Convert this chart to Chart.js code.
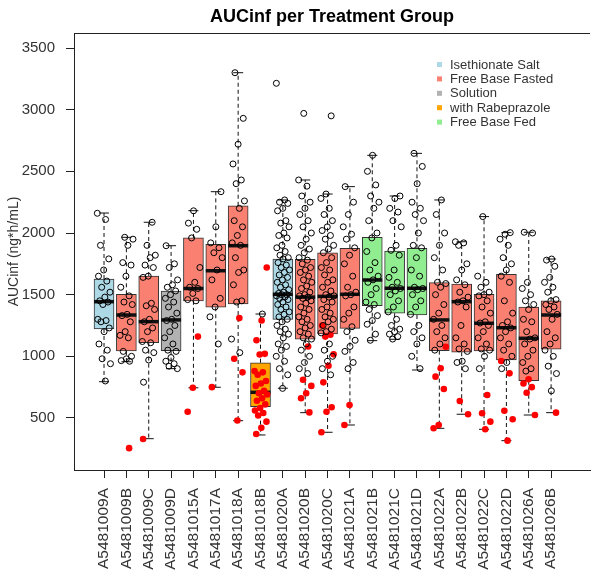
<!DOCTYPE html>
<html>
<head>
<meta charset="utf-8">
<script src="https://cdn.jsdelivr.net/npm/chart.js@4.4.1/dist/chart.umd.min.js"></script>
<style>
  html, body { margin: 0; padding: 0; background: #fff; }
</style>
</head>
<body>
<canvas id="aucChart" width="595" height="575"></canvas>
<script>
const groups = ['A5481009A', 'A5481009B', 'A5481009C', 'A5481009D', 'A5481015A', 'A5481017A',
  'A5481018A', 'A5481018B', 'A5481020A', 'A5481020B', 'A5481020C', 'A5481021A', 'A5481021B',
  'A5481021C', 'A5481021D', 'A5481022A', 'A5481022B', 'A5481022C', 'A5481022D', 'A5481026A', 'A5481026B'];

// 0 Isethionate Salt, 1 Free Base Fasted, 2 Solution, 3 with Rabeprazole, 4 Free Base Fed
const groupType = [0, 1, 1, 2, 1, 1, 1, 3, 0, 1, 1, 1, 4, 4, 4, 1, 1, 1, 1, 1, 1];
const legendLabels = ['Isethionate Salt', 'Free Base Fasted', 'Solution', 'with Rabeprazole', 'Free Base Fed'];
const legendColors = ['#ADD8E6', '#FA8072', '#B2B2B2', '#FFA500', '#90EE90'];

const whiskerLow  = [794, 956, 332, 900, 745, 749, 478, 362, 741, 543, 384, 443, 1127, 1138, 889, 416, 530, 408, 316, 524, 543];
const q1          = [1222, 1043, 1111, 1046, 1450, 1398, 1424, 592, 1300, 1138, 1181, 1227, 1411, 1349, 1335, 1046, 1033, 1043, 970, 802, 1057];
const median      = [1443, 1335, 1281, 1295, 1550, 1694, 1897, 708, 1503, 1480, 1486, 1503, 1619, 1552, 1552, 1295, 1443, 1268, 1232, 1146, 1335];
const q3          = [1627, 1503, 1651, 1530, 1960, 1908, 2221, 948, 1789, 1787, 1840, 1876, 1965, 1854, 1876, 1597, 1586, 1503, 1665, 1400, 1449];
const whiskerHigh = [2162, 1965, 2087, 1897, 2181, 2335, 3300, 1343, 2268, 2430, 2316, 2376, 2630, 2300, 2646, 2268, 1929, 2133, 2003, 2006, 1789];

const blackPoints = [
  [2160, 2110, 1900, 1790, 1700, 1650, 1610, 1560, 1520, 1480, 1450, 1440, 1420, 1300, 1290, 1280, 1230, 1200, 1100, 1050, 980, 940, 800],
  [1965, 1950, 1900, 1760, 1740, 1650, 1560, 1490, 1440, 1420, 1340, 1330, 1280, 1200, 1170, 1150, 1040, 1000, 980, 965, 960],
  [2087, 1900, 1820, 1800, 1740, 1720, 1650, 1640, 1430, 1410, 1380, 1300, 1280, 1230, 1200, 1120, 1110, 1050, 1030, 970, 790],
  [1897, 1750, 1720, 1620, 1580, 1560, 1530, 1500, 1470, 1440, 1400, 1350, 1300, 1290, 1250, 1200, 1150, 1100, 1050, 1040, 990, 960, 940, 920, 900],
  [2180, 2080, 2030, 1960, 1720, 1600, 1560, 1550, 1510, 1460, 1450],
  [2335, 2050, 1920, 1880, 1840, 1800, 1700, 1620, 1470, 1400, 1320, 1100],
  [3300, 2930, 2720, 2560, 2430, 2400, 2260, 2200, 2100, 2050, 1980, 1920, 1900, 1800, 1700, 1680, 1580, 1450, 1440, 1140, 1030],
  [1343],
  [3214, 2268, 2250, 2240, 2200, 2180, 2100, 2080, 2050, 2000, 1980, 1960, 1900, 1880, 1850, 1820, 1800, 1790, 1760, 1740,
   1720, 1700, 1680, 1660, 1640, 1620, 1600, 1580, 1560, 1540, 1520, 1510, 1500, 1500, 1490, 1480, 1470, 1460, 1440, 1420,
   1400, 1380, 1360, 1340, 1320, 1300, 1280, 1250, 1220, 1200, 1180, 1150, 1100, 1080, 1050, 1000, 960, 900, 850, 740],
  [2970, 2430, 2380, 2300, 2250, 2200, 2150, 2100, 2050, 2000, 1950, 1900, 1870, 1840, 1800, 1780, 1750, 1720, 1700, 1680,
   1650, 1620, 1600, 1570, 1550, 1520, 1500, 1490, 1480, 1470, 1450, 1430, 1400, 1380, 1350, 1320, 1300, 1280, 1250, 1230,
   1200, 1180, 1150, 1140, 1100, 1050, 1000, 950, 900, 860],
  [2950, 2316, 2280, 2200, 2150, 2100, 2050, 2020, 1980, 1950, 1900, 1870, 1840, 1800, 1760, 1720, 1700, 1660, 1620, 1600,
   1560, 1530, 1500, 1490, 1480, 1460, 1440, 1400, 1380, 1350, 1320, 1300, 1280, 1250, 1220, 1200, 1190, 1100, 1050, 1000, 960, 900, 850],
  [2376, 2250, 2150, 2050, 1990, 1950, 1880, 1820, 1750, 1650, 1560, 1520, 1500, 1490, 1400, 1350, 1300, 1240, 1200, 1130, 1080, 1040, 950, 900],
  [2630, 2500, 2390, 2300, 2250, 2200, 2100, 2000, 1960, 1850, 1760, 1700, 1650, 1620, 1600, 1550, 1500, 1440, 1420, 1380, 1330, 1290, 1260, 1180, 1130],
  [2300, 2280, 2200, 2170, 2100, 2050, 1900, 1860, 1820, 1700, 1640, 1600, 1560, 1550, 1530, 1500, 1450, 1400, 1360, 1300, 1250, 1220, 1200, 1180, 1160, 1140],
  [2646, 2540, 2400, 2250, 2200, 2150, 2100, 2000, 1900, 1880, 1800, 1700, 1650, 1560, 1550, 1540, 1500, 1450, 1400, 1340, 1250, 1200, 1150, 1100, 1000, 900],
  [2268, 2150, 2000, 1900, 1800, 1700, 1600, 1590, 1560, 1500, 1420, 1350, 1300, 1250, 1200, 1150, 1100, 1050],
  [1929, 1920, 1900, 1750, 1700, 1620, 1580, 1520, 1480, 1450, 1440, 1400, 1250, 1150, 1100, 1060, 1040, 960, 950, 900],
  [2133, 1650, 1600, 1560, 1520, 1500, 1490, 1450, 1400, 1350, 1280, 1270, 1250, 1200, 1150, 1100, 1060, 1050, 1000, 900],
  [2003, 1990, 1950, 1900, 1800, 1750, 1700, 1650, 1600, 1450, 1350, 1280, 1250, 1230, 1200, 1150, 1100, 1050, 1000, 950, 900],
  [2006, 2000, 1600, 1550, 1500, 1450, 1420, 1380, 1300, 1280, 1200, 1150, 1140, 1100, 1050, 1000, 950, 900, 880],
  [1789, 1780, 1730, 1640, 1600, 1560, 1520, 1460, 1450, 1420, 1400, 1380, 1340, 1300, 1200, 1150, 1100, 1050, 1000, 920, 860, 720]
];

const redPoints = [
  [], [255], [330], [], [1160, 745, 550], [750], [1310, 980, 870, 480],
  [1720, 1290, 1130, 1020, 1015, 880, 870, 850, 800, 780, 760, 720, 700, 690, 660, 640, 610, 580, 560, 540, 520, 470, 420, 370],
  [], [1080, 810, 760, 700, 660, 545], [1250, 1175, 1160, 1016, 924, 789, 587, 551, 384], [605, 443],
  [], [], [], [1078, 903, 835, 735, 443, 416], [638, 530], [686, 538, 470, 408], [962, 862, 559, 489, 316],
  [814, 780, 750, 705, 524], [543]
];

const yTicks = [500, 1000, 1500, 2000, 2500, 3000, 3500];

// spread points sideways around their group like stripchart(jitter)
function jitter(i, k) {
  const f = (k * 0.618034 + i * 0.377) % 1;
  return (f - 0.5) * 0.6;
}

const boxData = groups.map((g, i) => ({x: i, y: [q1[i], q3[i]]}));
const blackData = [];
blackPoints.forEach((vals, i) => vals.forEach((v, k) => blackData.push({x: i + jitter(i, k), y: v})));
const redData = [];
redPoints.forEach((vals, i) => vals.forEach((v, k) => redData.push({x: i + jitter(i, k + 7), y: v})));

const boxExtras = {
  id: 'boxExtras',
  afterDatasetDraw(chart, args) {
    if (args.index !== 0) return;
    const {ctx, scales: {x, y}} = chart;
    ctx.save();
    ctx.strokeStyle = '#111';
    groups.forEach((g, i) => {
      const px = x.getPixelForValue(i);
      // whiskers
      ctx.lineWidth = 1;
      ctx.setLineDash([4, 3]);
      ctx.beginPath();
      ctx.moveTo(px, y.getPixelForValue(q3[i]));
      ctx.lineTo(px, y.getPixelForValue(whiskerHigh[i]));
      ctx.moveTo(px, y.getPixelForValue(q1[i]));
      ctx.lineTo(px, y.getPixelForValue(whiskerLow[i]));
      ctx.stroke();
      ctx.setLineDash([]);
      ctx.beginPath();
      ctx.moveTo(px - 5, y.getPixelForValue(whiskerHigh[i]));
      ctx.lineTo(px + 5, y.getPixelForValue(whiskerHigh[i]));
      ctx.moveTo(px - 5, y.getPixelForValue(whiskerLow[i]));
      ctx.lineTo(px + 5, y.getPixelForValue(whiskerLow[i]));
      ctx.stroke();
      // median
      ctx.lineWidth = 3.5;
      ctx.beginPath();
      ctx.moveTo(px - 10, y.getPixelForValue(median[i]));
      ctx.lineTo(px + 10, y.getPixelForValue(median[i]));
      ctx.stroke();
    });
    ctx.restore();
  },
  afterDraw(chart) {
    const {ctx, chartArea} = chart;
    ctx.save();
    // top edge of the frame
    ctx.strokeStyle = '#222';
    ctx.lineWidth = 1;
    ctx.beginPath();
    ctx.moveTo(chartArea.left, chartArea.top + 0.5);
    ctx.lineTo(chartArea.right, chartArea.top + 0.5);
    ctx.stroke();
    // legend
    ctx.font = '13px "Liberation Sans", Arial, sans-serif';
    ctx.textBaseline = 'middle';
    legendLabels.forEach((lab, k) => {
      const ly = 65 + k * 14.4;
      ctx.fillStyle = legendColors[k];
      ctx.fillRect(437, ly - 3, 5, 5);
      ctx.fillStyle = '#333';
      ctx.fillText(lab, 450, ly);
    });
    ctx.restore();
  }
};

Chart.defaults.font.family = '"Liberation Sans", Arial, sans-serif';
Chart.defaults.color = '#333';

const ctx = document.getElementById('aucChart').getContext('2d');
const chart = new Chart(ctx, {
  type: 'bar',
  data: {
    datasets: [{
      label: 'box',
      data: boxData,
      backgroundColor: groupType.map(t => legendColors[t]),
      borderColor: '#333',
      borderWidth: 1,
      borderSkipped: false,
      barThickness: 20,
      order: 3
    }, {
      type: 'scatter',
      label: 'flagged',
      data: redData,
      showLine: false,
      pointRadius: 3.3,
      pointBackgroundColor: '#FF0000',
      pointBorderColor: '#FF0000',
      pointBorderWidth: 0,
      order: 2
    }, {
      type: 'scatter',
      label: 'subjects',
      data: blackData,
      showLine: false,
      pointRadius: 3,
      pointBackgroundColor: 'rgba(0,0,0,0)',
      pointBorderColor: '#000',
      pointBorderWidth: 1,
      order: 1
    }]
  },
  options: {
    responsive: false,
    animation: false,
    events: [],
    layout: {padding: 0},
    plugins: {
      legend: {display: false},
      tooltip: {enabled: false},
      title: {
        display: true,
        text: 'AUCinf per Treatment Group',
        color: '#000',
        fullSize: false,
        font: {size: 18, weight: 'bold'},
        padding: {top: 6, bottom: 5.4}
      }
    },
    scales: {
      x: {
        type: 'linear',
        min: -1.343,
        max: 21.74,
        offset: false,
        grid: {display: true, drawOnChartArea: false, drawTicks: true, tickLength: 8, color: '#222', offset: false},
        border: {display: true, color: '#222', width: 1},
        afterBuildTicks: (scale) => { scale.ticks = groups.map((g, i) => ({value: i})); },
        afterFit: (scale) => { scale.height = 105; },
        ticks: {
          autoSkip: false,
          minRotation: 90,
          maxRotation: 90,
          padding: 10,
          color: '#333',
          font: {size: 15.5},
          callback: (value) => groups[value]
        }
      },
      y: {
        type: 'linear',
        min: 78,
        max: 3622,
        grid: {display: true, drawOnChartArea: false, drawTicks: true, tickLength: 8, color: '#222'},
        border: {display: true, color: '#222', width: 1},
        afterBuildTicks: (scale) => { scale.ticks = yTicks.map(v => ({value: v})); },
        afterFit: (scale) => { scale.width = 74; },
        title: {
          display: true,
          text: 'AUCinf (ng*h/mL)',
          color: '#333',
          font: {size: 14},
          padding: {top: 6, bottom: 0}
        },
        ticks: {
          padding: 11,
          color: '#333',
          font: {size: 15},
          callback: (value) => String(value)
        }
      }
    }
  },
  plugins: [boxExtras]
});
</script>
</body>
</html>
